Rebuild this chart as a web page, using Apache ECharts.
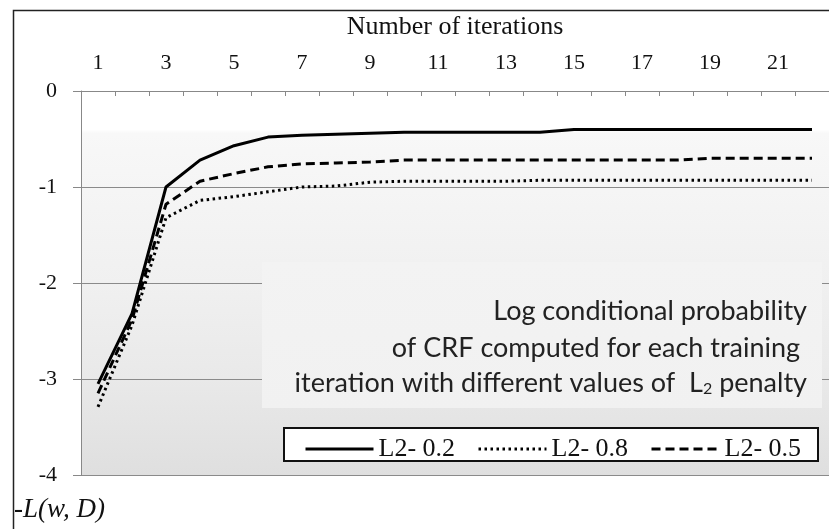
<!DOCTYPE html>
<html>
<head>
<meta charset="utf-8">
<script src="https://cdn.jsdelivr.net/npm/echarts@6/dist/echarts.min.js"></script>
<style>
html,body{margin:0;padding:0;background:#fff;}
#chart{width:829px;height:529px;}
</style>
</head>
<body>
<div id="chart"></div>
<script>
const iterations = ['1','2','3','4','5','6','7','8','9','10','11','12','13','14','15','16','17','18','19','20','21','22'];
const l2_02 = [-3.05,-2.32,-1.00,-0.72,-0.57,-0.48,-0.46,-0.45,-0.44,-0.43,-0.43,-0.43,-0.43,-0.43,-0.40,-0.40,-0.40,-0.40,-0.40,-0.40,-0.40,-0.40];
const l2_08 = [-3.29,-2.44,-1.32,-1.14,-1.10,-1.05,-1.00,-0.99,-0.95,-0.94,-0.94,-0.94,-0.94,-0.93,-0.93,-0.93,-0.93,-0.93,-0.93,-0.93,-0.93,-0.93];
const l2_05 = [-3.15,-2.38,-1.18,-0.94,-0.86,-0.79,-0.76,-0.75,-0.74,-0.72,-0.72,-0.72,-0.72,-0.72,-0.72,-0.72,-0.72,-0.72,-0.70,-0.70,-0.70,-0.70];
const seriesNames = ['L2- 0.2','L2- 0.8','L2- 0.5'];
const yTicks = {min:-4, max:0, interval:1};

const serif = 'Liberation Serif';
const sans = 'Lato';
const chart = echarts.init(document.getElementById('chart'));
function legendAt(left, name) {
  return {
    orient:'horizontal', left:left, top:436, itemWidth:68, itemHeight:14, itemGap:5,
    textStyle:{fontFamily:serif, fontSize:26, color:'#111'}, padding:0, z:6,
    selectedMode:false, itemStyle:{opacity:0}, lineStyle:{width:3}, data:[name]
  };
}
chart.setOption({
  animation:false,
  backgroundColor:'#fff',
  grid:{left:81, right:0, top:91, bottom:54, show:true, borderWidth:0,
    backgroundColor:new echarts.graphic.LinearGradient(0,0,0,1,[
      {offset:0,color:'#ffffff'},{offset:0.1,color:'#ffffff'},
      {offset:0.11,color:'#f8f8f8'},{offset:0.5,color:'#f0f0f0'},
      {offset:0.75,color:'#e9e9e9'},{offset:1,color:'#dfdfdf'}])},
  xAxis:{type:'category', data:iterations, position:'top', boundaryGap:true,
    name:'Number of iterations', nameLocation:'middle', nameGap:51,
    nameTextStyle:{fontFamily:serif, fontSize:26, color:'#111'},
    axisLine:{show:true, lineStyle:{color:'#888', width:1}},
    axisTick:{show:true, inside:true, length:5, interval:0, lineStyle:{color:'#888'}},
    axisLabel:{interval:1, margin:17, fontFamily:serif, fontSize:22, color:'#111'},
    splitLine:{show:false}},
  yAxis:{type:'value', min:yTicks.min, max:yTicks.max, interval:yTicks.interval,
    axisLine:{show:true, lineStyle:{color:'#888', width:1}},
    axisTick:{show:true, length:8, lineStyle:{color:'#888'}},
    axisLabel:{margin:24, fontFamily:serif, fontSize:22, color:'#111'},
    splitLine:{show:true, lineStyle:{color:'#8a8a8a', width:1}}},
  legend:[
    legendAt(304, seriesNames[0]),
    legendAt(477, seriesNames[1]),
    legendAt(650, seriesNames[2])
  ],
  graphic:[
    {type:'rect', left:11, top:8, z:10, shape:{width:840, height:540},
      style:{fill:'none', stroke:'#222', lineWidth:1.5}},
    {type:'rect', left:262, top:262, z:1, shape:{width:560, height:146},
      style:{fill:new echarts.graphic.LinearGradient(0,0,0,1,[
        {offset:0,color:'#f3f3f3'},{offset:1,color:'#f1f1f1'}])}},
    {type:'rect', left:283, top:427, z:5, shape:{width:534, height:33},
      style:{fill:'#fff', stroke:'#111', lineWidth:2}},
    {type:'text', right:22, top:298, z:6,
      style:{text:'Log conditional probability', fontFamily:sans, fontSize:27, fill:'#222', align:'right'}},
    {type:'text', right:22, top:335, z:6,
      style:{text:'of CRF computed for each training ', fontFamily:sans, fontSize:27, fill:'#222', align:'right'}},
    {type:'text', right:22, top:370, z:6,
      style:{text:'{a|iteration with different values of  L}{s|2}{a| penalty}', fontFamily:sans, fontSize:27, fill:'#222', align:'right',
        rich:{a:{fontFamily:sans, fontSize:27, fill:'#222'}, s:{fontFamily:sans, fontSize:16, fill:'#222', padding:[11,0,0,0]}}}},
    {type:'text', left:14, top:496, z:6,
      style:{text:'-L(w, D)', fontFamily:serif, fontStyle:'italic', fontSize:27, fill:'#111'}}
  ],
  series:[
    {name:seriesNames[0], type:'line', data:l2_02, symbol:'circle', showSymbol:false, z:3,
      lineStyle:{color:'#000', width:3, type:'solid'}, itemStyle:{color:'#000'}},
    {name:seriesNames[1], type:'line', data:l2_08, symbol:'circle', showSymbol:false, z:3,
      lineStyle:{color:'#000', width:3, type:[2.5,3.5]}, itemStyle:{color:'#000'}},
    {name:seriesNames[2], type:'line', data:l2_05, symbol:'circle', showSymbol:false, z:3,
      lineStyle:{color:'#000', width:3, type:[9,5]}, itemStyle:{color:'#000'}}
  ]
});
</script>
</body>
</html>
